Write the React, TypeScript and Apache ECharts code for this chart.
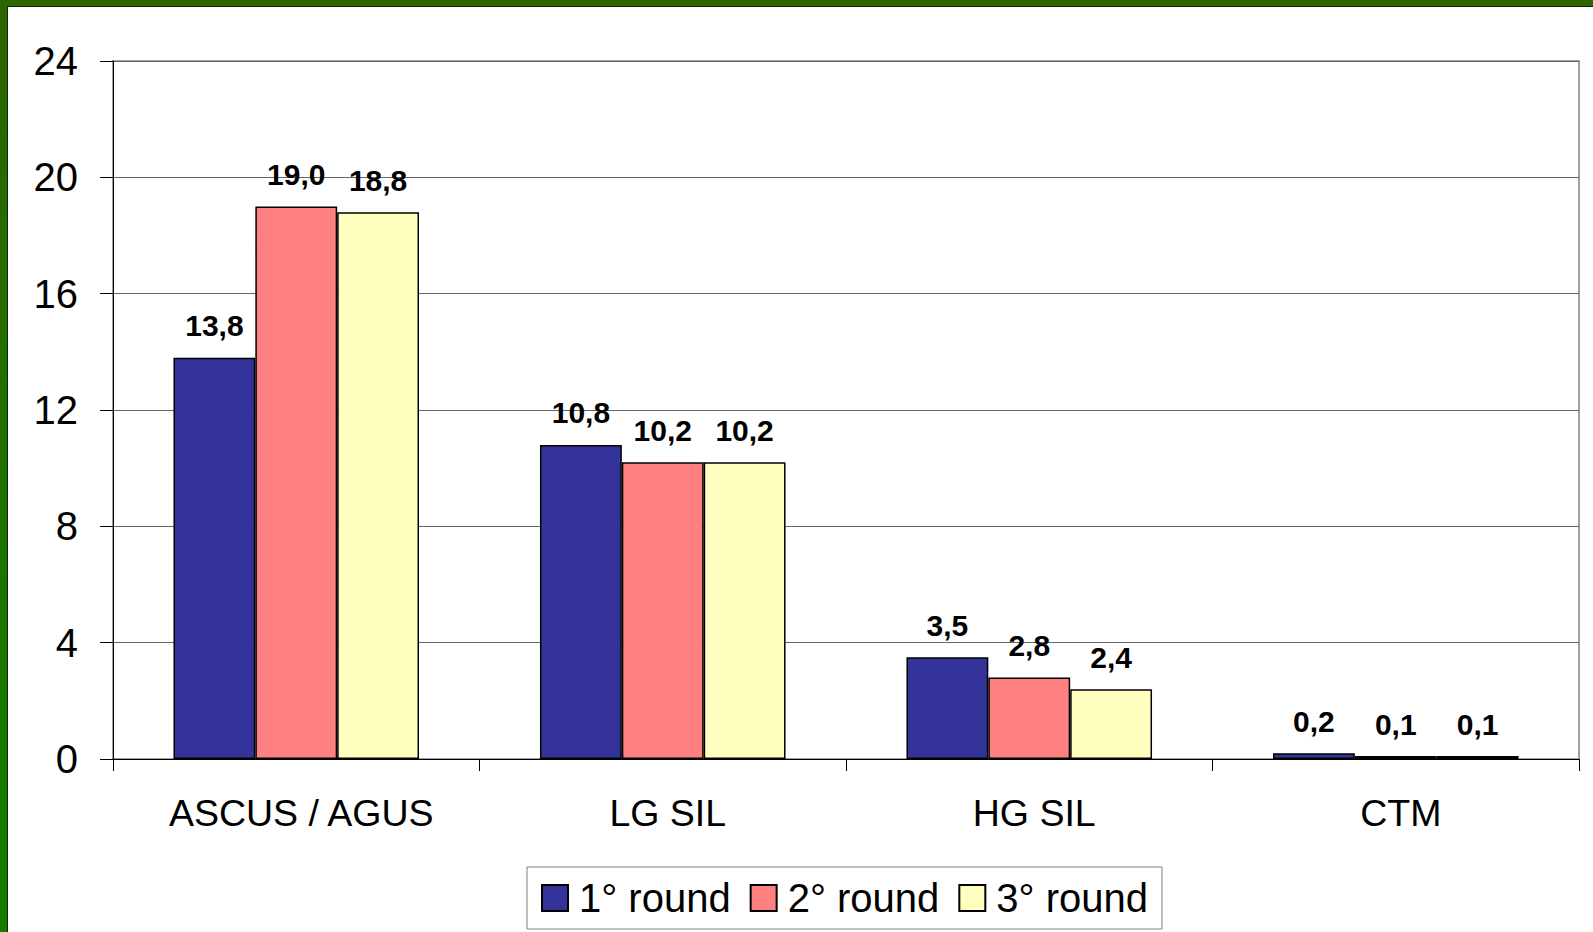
import React, { useEffect, useRef } from "react";
import * as echarts from "echarts";

const categories = ["ASCUS / AGUS", "LG SIL", "HG SIL", "CTM"];
const seriesNames = ["1° round", "2° round", "3° round"];
const round1 = [13.8, 10.8, 3.5, 0.2];
const round2 = [19.0, 10.2, 2.8, 0.1];
const round3 = [18.8, 10.2, 2.4, 0.1];
const seriesColors = ["#333399", "#FF8080", "#FFFFC0"];
const yTicks = { min: 0, max: 24, interval: 4 };

const FONT = "'Liberation Sans', Arial, Helvetica, sans-serif";

export default function App() {
  const ref = useRef<HTMLDivElement>(null);
  useEffect(() => {
    if (!ref.current) return;
    const chart = echarts.init(ref.current, null, { renderer: "svg" });
    const data = [round1, round2, round3];
    chart.setOption({
      animation: false,
      backgroundColor: "#ffffff",
      textStyle: { fontFamily: FONT },
      graphic: [
        { type: "rect", left: 0, top: 0, shape: { width: 1593, height: 6 }, style: { fill: "#2d6600" }, z: 100 },
        { type: "rect", left: 0, top: 6, shape: { width: 1593, height: 1 }, style: { fill: "#102a00" }, z: 100 },
        {
          type: "rect",
          left: 0,
          top: 0,
          shape: { width: 7, height: 932 },
          style: {
            fill: new echarts.graphic.LinearGradient(0, 0, 0, 1, [
              { offset: 0, color: "#2d6600" },
              { offset: 1, color: "#137d00" },
            ]),
          },
          z: 100,
        },
        { type: "rect", left: 7, top: 6, shape: { width: 1, height: 926 }, style: { fill: "#0c2a00" }, z: 100 },
      ],
      grid: {
        left: 113,
        top: 61,
        right: 14,
        bottom: 173,
        show: true,
        borderColor: "#a0a0a0",
        borderWidth: 2,
        backgroundColor: "transparent",
      },
      legend: {
        left: 527,
        top: 867,
        orient: "horizontal",
        padding: [11, 14, 11, 14],
        itemGap: 19,
        itemWidth: 26,
        itemHeight: 26,
        borderColor: "#808080",
        borderWidth: 1,
        icon: "rect",
        textStyle: { fontSize: 40, color: "#000", fontFamily: FONT, padding: [0, 0, 0, 6] },
        data: seriesNames,
      },
      xAxis: {
        type: "category",
        data: categories,
        axisLine: { show: true, lineStyle: { color: "#000", width: 1 } },
        axisTick: { show: true, length: 12, alignWithLabel: false, lineStyle: { color: "#000" } },
        axisLabel: { fontSize: 37.5, color: "#000", margin: 35, fontFamily: FONT, padding: [0, 0, 0, 10] },
        splitLine: { show: false },
      },
      yAxis: {
        type: "value",
        min: yTicks.min,
        max: yTicks.max,
        interval: yTicks.interval,
        axisLine: { show: true, lineStyle: { color: "#000", width: 1 } },
        axisTick: { show: true, length: 13, lineStyle: { color: "#000" } },
        axisLabel: { fontSize: 40, color: "#000", margin: 35, fontFamily: FONT },
        splitLine: { show: true, lineStyle: { color: "#666666", width: 1 } },
      },
      series: seriesNames.map((name, i) => ({
        name,
        type: "bar",
        data: data[i],
        barGap: "0%",
        barCategoryGap: "33%",
        itemStyle: { color: seriesColors[i], borderColor: "#000", borderWidth: 1.5 },
        label: {
          show: true,
          position: "top",
          distance: 17,
          fontSize: 30,
          fontWeight: "bold",
          color: "#000",
          fontFamily: FONT,
          formatter: (p: any) => Number(p.value).toFixed(1).replace(".", ","),
        },
      })),
    });
    return () => chart.dispose();
  }, []);
  return (
    <div
      ref={ref}
      style={{ position: "fixed", left: 0, top: 0, width: 1593, height: 932, background: "#fff" }}
    />
  );
}
